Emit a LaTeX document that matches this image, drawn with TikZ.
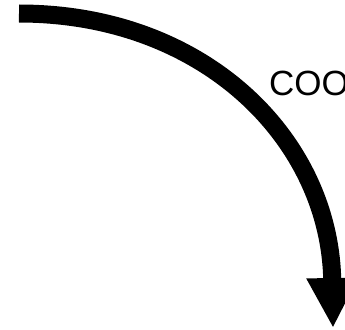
\documentclass[tikz,border=0pt]{standalone}
\usepackage{fontspec}
\setmainfont{Liberation Sans}
\usetikzlibrary{arrows.meta,positioning,calc}

\begin{document}
\begin{tikzpicture}[x=1pt,y=-1pt,>={Triangle[length=50pt,width=48pt]},
    bigarrow/.style={->,line width=18pt},
    every node/.style={inner sep=0pt,outer sep=0pt,font=\fontsize{35}{42}\selectfont}]
    \useasboundingbox (0,0) rectangle (345,329);
    \coordinate (start) at (19,13.5);
    \coordinate (end) at (333,328);
    \node[anchor=base west] (coo) at (269,95) {COO};
    \draw[bigarrow] (start) .. controls (205,13.5) and (330,140) .. (end);
  \end{tikzpicture}
\end{document}
